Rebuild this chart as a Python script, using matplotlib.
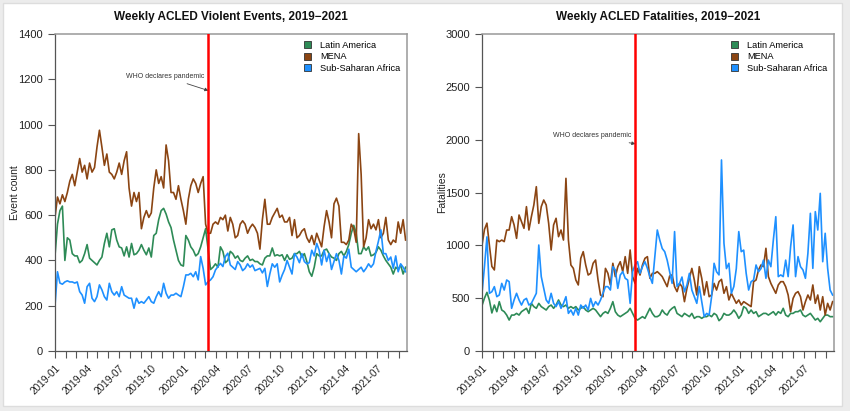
import numpy as np
import pandas as pd
import matplotlib
matplotlib.use("Agg")
import matplotlib.pyplot as plt
import matplotlib.dates as mdates
from matplotlib.patches import Patch, Rectangle

plt.rcParams['font.family'] = ['Liberation Sans', 'DejaVu Sans']

# ---------------- data ----------------
start_date = '2019-01-01'
n_weeks = 143
regions = ['Latin America', 'MENA', 'Sub-Saharan Africa']
colors = ['#2E8B57', '#8B4513', '#1E90FF']
pandemic_date = '2020-03-11'
annotation_text = 'WHO declares pandemic'

events_latam = [
    420, 560, 620, 640, 400, 500, 490, 430, 420, 420,
    390, 400, 430, 470, 410, 400, 390, 380, 400, 415,
    475, 520, 460, 535, 540, 490, 460, 455, 420, 460,
    415, 475, 425, 430, 445, 470, 445, 425, 455, 415,
    510, 520, 580, 620, 630, 605, 570, 545, 490, 445,
    400, 380, 375, 510, 490, 460, 445, 420, 430, 460,
    500, 540, 450, 360, 370, 385, 370, 460, 440, 390,
    400, 440,
    430, 410, 420, 400, 395, 410, 420, 400,
    405, 395, 395, 385, 380, 410, 420, 420, 455, 420,
    425, 420, 425, 400, 425, 405, 410, 430, 430, 440,
    415, 430, 395, 350, 330, 370, 430, 420, 420, 445,
    450, 430, 415, 410, 400, 430, 440, 420, 440, 470,
    520, 555, 520, 430, 430, 460, 445, 460, 420, 425,
    435, 460, 445, 420, 400, 385, 370, 340, 370, 360,
    380, 340, 370]

events_mena = [
    590, 680, 650, 690, 660, 700, 750, 780, 730, 790,
    850, 790, 820, 760, 830, 790, 810, 900, 975, 900,
    820, 870, 790, 780, 760, 790, 830, 780, 840, 880,
    720, 640, 700, 660, 700, 540, 590, 620, 590, 610,
    720, 800, 740, 770, 720, 910, 840, 700, 700, 670,
    730, 670, 620, 560, 670, 730, 760, 740, 700, 740,
    770, 560, 520, 520, 560, 570, 560, 590, 580, 600,
    530, 590,
    560, 500, 510, 560, 575, 560, 520, 545,
    560, 545, 520, 450, 580, 670, 560, 560, 590, 610,
    630, 590, 600, 570, 570, 590, 510, 580, 500, 510,
    530, 540, 500, 480, 510, 470, 520, 490, 460, 550,
    620, 570, 500, 650, 675, 640, 480, 480, 470, 490,
    560, 540, 480, 960, 780, 460, 500, 580, 540, 560,
    535, 580, 500, 520, 590, 490, 470, 490, 480, 570,
    520, 580, 490]

events_ssa = [
    200, 350, 300, 295, 305, 310, 305, 305, 300, 305,
    262, 247, 211, 284, 299, 233, 218, 240, 292, 270,
    240, 225, 299, 262, 247, 262, 240, 284, 247, 240,
    233, 233, 189, 233, 211, 218, 211, 225, 240, 218,
    211, 240, 262, 240, 299, 255, 233, 247, 247, 255,
    247, 240, 284, 336, 336, 343, 328, 350, 314, 417,
    365, 292, 306, 314, 328, 358, 373, 387, 373, 417,
    432, 380,
    370, 360, 395, 380, 355, 365, 385, 370,
    380, 355, 360, 365, 345, 365, 285, 340, 385, 370,
    385, 305, 335, 360, 400, 370, 340, 430, 415, 390,
    430, 395, 385, 390, 445, 420, 475, 445, 380, 445,
    395, 430, 360, 395, 430, 400, 340, 420, 410, 450,
    370, 360, 350, 360, 370, 350, 365, 385, 370, 385,
    440, 485, 535, 430, 430, 400, 415, 365, 420, 350,
    385, 370, 350]

fatal_latam = [
    430, 500, 555, 480, 360, 435, 372, 467, 388, 372,
    340, 293, 340, 340, 356, 340, 372, 388, 404, 356,
    451, 420, 404, 451, 420, 404, 388, 420, 435, 404,
    435, 483, 435, 420, 435, 404, 420, 404, 420, 388,
    404, 420, 388, 372, 388, 404, 388, 356, 325, 356,
    372, 356, 404, 467, 372, 340, 325, 340, 356, 372,
    404, 356, 309, 293, 309, 325, 309, 356, 404, 356,
    325, 325,
    340, 388, 356, 340, 382, 404, 420, 356,
    340, 325, 356, 340, 325, 356, 309, 325, 325, 309,
    325, 325, 340, 325, 356, 340, 287, 309, 356, 340,
    340, 356, 388, 356, 309, 340, 420, 404, 356, 388,
    356, 372, 325, 340, 356, 356, 340, 356, 372, 340,
    372, 356, 404, 340, 325, 356, 356, 372, 372, 388,
    340, 325, 340, 356, 325, 293, 309, 277, 309, 340,
    340, 325, 325]

fatal_mena = [
    1000, 1150, 1210, 1000, 800, 767, 1050, 1035, 1050, 1035,
    1145, 1145, 1271, 1193, 1066, 1287, 1224, 1161, 1366, 1145,
    1271, 1382, 1555, 1208, 1366, 1429, 1382, 1208, 956, 1193,
    1256, 1082, 1145, 1050, 1634, 1050, 814, 782, 672, 625,
    877, 940, 814, 719, 735, 830, 861, 672, 530, 514,
    782, 735, 625, 830, 704, 798, 845, 751, 893, 735,
    956, 704, 640, 782, 719, 814, 877, 893, 688, 735,
    735, 751,
    729, 704, 656, 609, 710, 720, 609, 562,
    640, 609, 467, 593, 688, 782, 672, 530, 798, 688,
    530, 656, 514, 530, 640, 577, 656, 678, 546, 609,
    483, 546, 498, 451, 483, 435, 467, 451, 435, 420,
    656, 672, 767, 814, 798, 972, 704, 640, 593, 546,
    625, 656, 656, 609, 530, 372, 498, 546, 562, 514,
    388, 467, 530, 483, 625, 451, 530, 388, 514, 341,
    451, 388, 467]

fatal_ssa = [
    546, 800, 1080, 546, 561, 609, 514, 530, 640, 577,
    672, 656, 404, 483, 546, 483, 435, 483, 498, 435,
    451, 498, 546, 1003, 704, 593, 483, 451, 546, 451,
    420, 467, 404, 451, 514, 356, 388, 340, 404, 340,
    435, 404, 435, 388, 498, 420, 467, 435, 483, 546,
    609, 609, 577, 798, 767, 593, 719, 751, 688, 672,
    451, 751, 814, 845, 735, 798, 845, 782, 704, 640,
    893, 1145,
    1050, 970, 940, 860, 750, 640, 1130, 610,
    640, 700, 560, 625, 735, 577, 514, 451, 610, 467,
    325, 356, 340, 514, 830, 750, 720, 1808, 1020, 780,
    830, 546, 610, 780, 1130, 940, 955, 735, 577, 656,
    672, 814, 750, 780, 860, 688, 860, 798, 1050, 1271,
    704, 720, 704, 860, 704, 987, 1193, 704, 893, 798,
    767, 688, 924, 1303, 782, 1319, 1145, 1492, 845, 1114,
    782, 577, 530]

events_series = [events_latam, events_mena, events_ssa]
fatal_series = [fatal_latam, fatal_mena, fatal_ssa]

# ---------------- figure ----------------
W, H = 850, 411
fig = plt.figure(figsize=(W / 100, H / 100), dpi=100)
fig.patch.set_facecolor('#ececec')
fig.patches.append(Rectangle((3 / W, 5 / H), 839 / W, 403 / H, transform=fig.transFigure,
                             facecolor='white', edgecolor='#dddddd', lw=1.0, zorder=-10))

weeks = pd.date_range(start_date, periods=n_weeks, freq='7D')
pandemic = pd.Timestamp(pandemic_date)

panels = [
    dict(rect=[55 / W, 1 - 351 / H, 352 / W, 317 / H], series=events_series,
         ymax=1400, ystep=200, ylabel='Event count',
         title='Weekly ACLED Violent Events, 2019\u22122021', tip=1150, txt=1212),
    dict(rect=[482 / W, 1 - 351 / H, 352 / W, 317 / H], series=fatal_series,
         ymax=3000, ystep=500, ylabel='Fatalities',
         title='Weekly ACLED Fatalities, 2019\u22122021', tip=1960, txt=2035),
]

for p in panels:
    ax = fig.add_axes(p['rect'])
    for vals, col in zip(p['series'], colors):
        ax.plot(weeks, vals, color=col, lw=1.2)
    ax.axvline(pandemic, color='#ff0000', lw=1.8, zorder=5)
    ax.set_xlim(weeks[0], pd.Timestamp('2021-09-25'))
    ax.set_ylim(0, p['ymax'])
    ax.set_yticks(np.arange(0, p['ymax'] + 1, p['ystep']))
    ax.xaxis.set_major_locator(mdates.MonthLocator(bymonth=[1, 4, 7, 10]))
    ax.xaxis.set_minor_locator(mdates.MonthLocator())
    ax.xaxis.set_major_formatter(mdates.DateFormatter('%Y-%m'))
    ax.tick_params(axis='both', which='both', direction='out', length=5, width=0.8,
                   colors='#555555', labelcolor='#222222', labelsize=8)
    ax.tick_params(axis='x', labelsize=7.3)
    for lab in ax.get_xticklabels():
        lab.set_rotation(45)
        lab.set_ha('right')
        lab.set_rotation_mode('anchor')
    for s in ['left', 'bottom']:
        ax.spines[s].set_color('#555555')
        ax.spines[s].set_linewidth(0.9)
    for s in ['top', 'right']:
        ax.spines[s].set_color('#999999')
        ax.spines[s].set_linewidth(1.1)
    ax.set_ylabel(p['ylabel'], fontsize=7.5, color='#222222', labelpad=-1)
    ax.set_title(p['title'], fontsize=8.5, fontweight='bold', pad=10, color='#111111')
    handles = [Patch(facecolor=c, edgecolor='#333333', lw=0.6) for c in colors]
    ax.legend(handles, regions, loc='upper right', frameon=False, fontsize=6.7,
              handlelength=0.8, handleheight=0.8, handletextpad=0.9,
              labelspacing=0.25, borderaxespad=0.35)
    ax.annotate(annotation_text, xy=(pandemic, p['tip']),
                xytext=(pandemic - pd.Timedelta(days=123), p['txt']),
                fontsize=5, ha='center', va='center', color='#333333',
                arrowprops=dict(arrowstyle='-|>', color='#444444', lw=0.6,
                                mutation_scale=5, shrinkA=2, shrinkB=0))

fig.savefig('out.png', dpi=100, facecolor=fig.get_facecolor())
